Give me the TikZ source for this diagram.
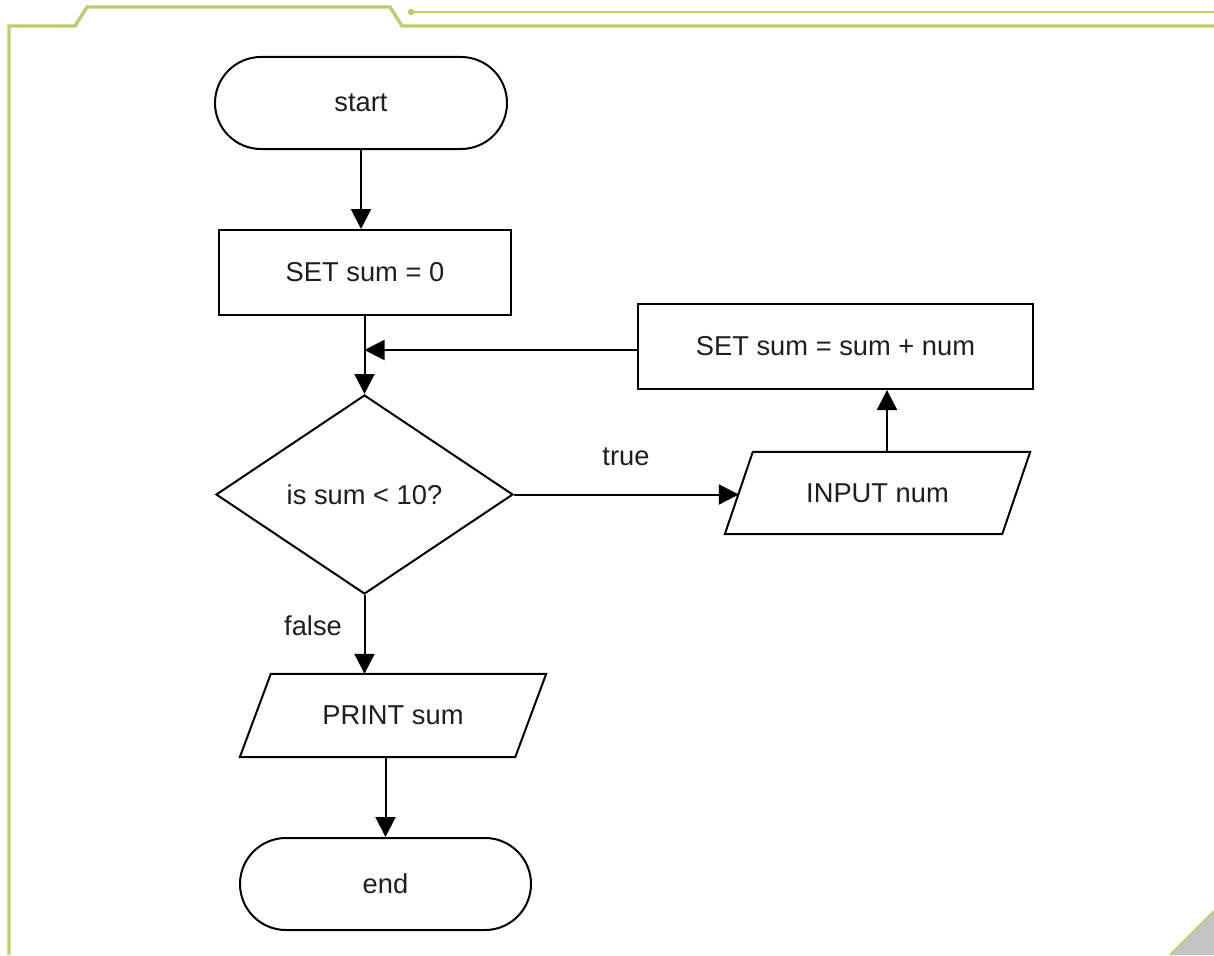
\documentclass[tikz,border=0pt]{standalone}
\usepackage{fontspec}
\setmainfont{Liberation Sans}
\usetikzlibrary{shapes.geometric,shapes.misc,arrows.meta,calc}
\definecolor{frame}{RGB}{184,207,108}
\definecolor{ink}{RGB}{30,30,30}
\definecolor{corner}{RGB}{196,196,196}
\tikzset{
  box/.style={draw, line width=2pt, inner sep=0pt, font=\fontsize{27.3}{31}\selectfont, text=ink},
  terminal/.style={box, rounded rectangle},
  process/.style={box, rectangle},
  decision/.style={box, diamond},
  iotext/.style={inner sep=0pt, font=\fontsize{27.3}{31}\selectfont, text=ink},
  outline/.style={line width=2pt, line join=miter},
  arr/.style={line width=2pt, -{Triangle[length=20pt,width=20pt]}},
  lbl/.style={font=\fontsize{27.3}{31}\selectfont, text=ink, inner sep=0pt},
  rim/.style={frame, line width=3.4pt},
}
\begin{document}
\begin{tikzpicture}[x=1pt,y=-1pt]
\useasboundingbox (0,0) rectangle (1214,955);

% page frame
\draw[rim, line join=miter] (9,955) -- (9,26) -- (75,26) -- (87,7) -- (390,7) -- (402,26) -- (1214,26);
\draw[frame, line width=1.6pt] (411,12) -- (1214,12);
\fill[frame] (411,12) circle (3.2);
\fill[corner] (1214,911) -- (1214,955) -- (1170,955) -- cycle;
\draw[frame, line width=2pt] (1214,911) -- (1170,955);

% flowchart nodes
\node[terminal, minimum width=292pt, minimum height=92pt] (start) at (361,103) {start};
\node[process, minimum width=292pt, minimum height=85pt] (set0) at (365,272.5) {SET sum = 0};
\node[decision, minimum width=297pt, minimum height=199pt] (dec) at (364.5,494.5) {is sum < 10?};
\node[process, minimum width=395pt, minimum height=85pt] (add) at (835.5,346.5) {SET sum = sum + num};
\node[iotext, minimum width=305pt, minimum height=82pt] (inp) at (877.5,493) {INPUT num};
\node[iotext, minimum width=306pt, minimum height=83pt] (prt) at (393,715.5) {PRINT sum};
\node[terminal, minimum width=291pt, minimum height=92pt] (end) at (385.5,884) {end};

% slanted input/output outlines
\draw[outline] ($(inp.north west)+(28,0)$) -- (inp.north east) -- ($(inp.south east)-(28,0)$) -- (inp.south west) -- cycle;
\draw[outline] ($(prt.north west)+(31,0)$) -- (prt.north east) -- ($(prt.south east)-(31,0)$) -- (prt.south west) -- cycle;
\coordinate (inpedge) at ($(inp.west)+(14,0)$);

% helper positions for the loop-back path
\coordinate (upcol) at (887,0);
\coordinate (backrow) at (0,350);

% connectors
\draw[arr] (start.south) -- (start.south |- set0.north);
\draw[arr] (dec.north |- set0.south) -- (dec.north);
\draw[arr] (add.west |- backrow) -- (dec.north |- backrow);
\draw[arr] (dec.east) -- (inpedge |- dec.east);
\draw[arr] (upcol |- inp.north) -- (upcol |- add.south);
\draw[arr] (dec.south) -- (dec.south |- prt.north);
\draw[arr] (end.north |- prt.south) -- (end.north);

% branch labels
\node[lbl] (ltrue) at (626,457) {true};
\node[lbl] (lfalse) at (313,626) {false};
\end{tikzpicture}
\end{document}
